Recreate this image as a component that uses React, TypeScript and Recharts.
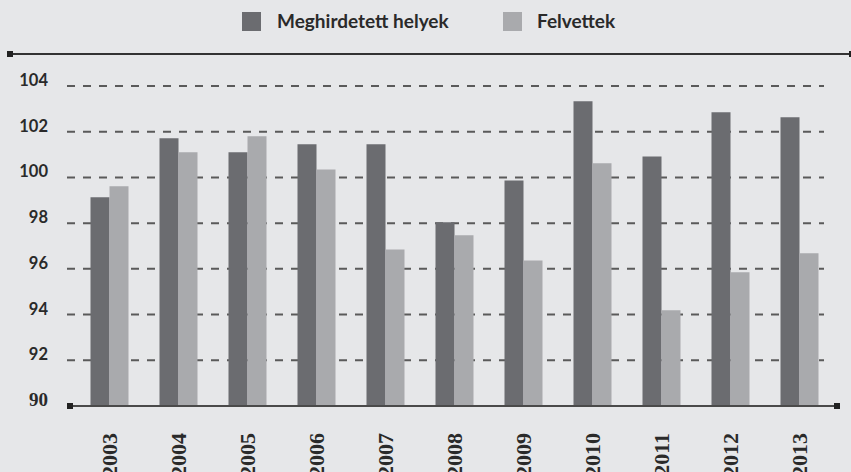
import { BarChart, Bar, XAxis, YAxis, CartesianGrid } from "recharts";

const years: string[] = ["2003", "2004", "2005", "2006", "2007", "2008", "2009", "2010", "2011", "2012", "2013"];
const meghirdetett: number[] = [99.13, 101.71, 101.1, 101.45, 101.45, 98.04, 99.87, 103.33, 100.92, 102.85, 102.63];
const felvettek: number[] = [99.61, 101.1, 101.8, 100.35, 96.85, 97.47, 96.37, 100.62, 94.19, 95.85, 96.68];
const yTicks: number[] = [90, 92, 94, 96, 98, 100, 102, 104];

const data = years.map((year, i) => ({
  year,
  meghirdetett: meghirdetett[i],
  felvettek: felvettek[i],
}));

const DARK = "#6b6c70";
const LIGHT = "#a9aaad";
const BG = "#e6e7e9";

const YTick = (props: any) => {
  const { y, payload } = props;
  const isBase = payload.value === 90;
  return (
    <text
      x={48}
      y={y}
      textAnchor="end"
      fill="#2a2a2a"
      fontWeight="bold"
      fontFamily={isBase ? "'Liberation Serif', serif" : "Lato, sans-serif"}
      fontSize={isBase ? 19 : 16.5}
    >
      {payload.value}
    </text>
  );
};

const XTick = (props: any) => {
  const { x, payload } = props;
  const tx = x + 8;
  const ty = 433;
  return (
    <text
      x={tx}
      y={ty}
      transform={`rotate(-90, ${tx}, ${ty})`}
      textAnchor="end"
      fill="#2a2a2a"
      fontWeight="bold"
      fontFamily="'Liberation Serif', serif"
      fontSize={22}
    >
      {payload.value}
    </text>
  );
};

const sq = (left: number, top: number) => (
  <div style={{ position: "absolute", left, top, width: 6, height: 6, background: "#222" }} />
);

const legendText = {
  position: "absolute" as const,
  top: 8,
  fontFamily: "Lato, sans-serif",
  fontWeight: "bold",
  fontSize: 19,
  color: "#2a2a2a",
  lineHeight: "26px",
  whiteSpace: "nowrap" as const,
};

const App = () => {
  return (
    <div style={{ position: "absolute", left: 0, top: 0, width: 851, height: 472, background: BG, overflow: "hidden" }}>
      {/* legend */}
      <div style={{ position: "absolute", left: 242, top: 12, width: 19, height: 19, background: DARK }} />
      <div style={{ ...legendText, left: 277 }}>Meghirdetett helyek</div>
      <div style={{ position: "absolute", left: 503, top: 12, width: 19, height: 19, background: LIGHT }} />
      <div style={{ ...legendText, left: 537 }}>Felvettek</div>

      {/* top rule */}
      <div style={{ position: "absolute", left: 9, top: 53, width: 842, height: 2, background: "#333" }} />
      {sq(7, 51)}
      {sq(849, 51)}

      <BarChart
        width={851}
        height={472}
        data={data}
        margin={{ top: 86, right: 11, bottom: 0, left: 0 }}
        barGap={0}
        style={{ position: "absolute", left: 0, top: 0 }}
      >
        <CartesianGrid vertical={false} x={67} width={757} stroke="#5a5a5a" strokeWidth={2} strokeDasharray="8 8" />
        <XAxis
          dataKey="year"
          height={66}
          interval={0}
          tickLine={false}
          axisLine={{ stroke: "#4a4a4a", strokeWidth: 2 }}
          padding={{ left: 7.5, right: 6.5 }}
          tick={<XTick />}
        />
        <YAxis
          width={67}
          domain={[90, 104]}
          ticks={yTicks}
          interval={0}
          axisLine={false}
          tickLine={false}
          tick={<YTick />}
        />
        <Bar dataKey="meghirdetett" fill={DARK} barSize={19} isAnimationActive={false} />
        <Bar dataKey="felvettek" fill={LIGHT} barSize={19} isAnimationActive={false} />
      </BarChart>

      {sq(67, 403)}
      {sq(834, 403)}
    </div>
  );
};

export default App;
